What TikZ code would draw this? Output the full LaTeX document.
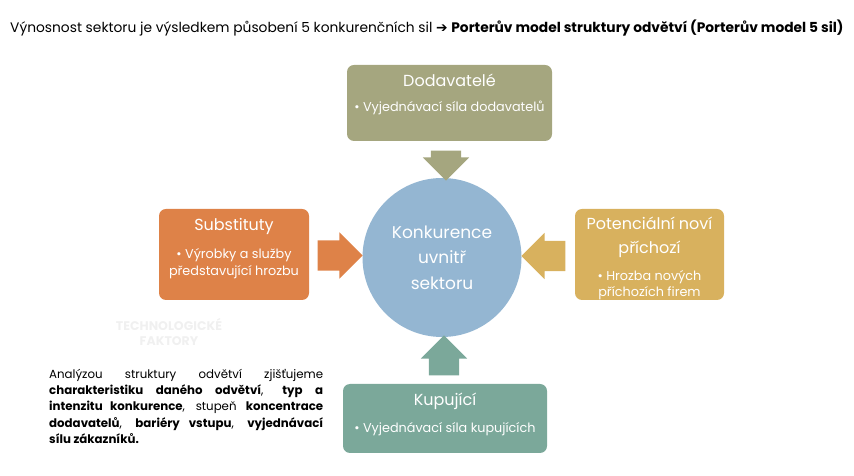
\documentclass[tikz,border=0pt]{standalone}
\usepackage{fontspec}
\setmainfont{Poppins}
\newfontfamily\symfont{DejaVu Sans}
\usetikzlibrary{shapes.arrows,positioning}

\definecolor{dodcol}{HTML}{A5A67F}
\definecolor{subcol}{HTML}{DE8248}
\definecolor{potcol}{HTML}{D8B15E}
\definecolor{kupcol}{HTML}{7BA89A}
\definecolor{konkcol}{HTML}{94B6D2}
\definecolor{fadecol}{HTML}{F0F0F0}

\newcommand{\boxtitle}{\fontsize{16}{17}\selectfont}

\tikzset{
  forcebox/.style={rounded corners=7pt, inner sep=0pt},
  boxtext/.style={text=white, align=center, inner sep=0pt,
    font=\fontsize{12.8}{17}\selectfont},
  blockarrow/.style={single arrow, single arrow head extend=8pt,
    inner xsep=0pt, inner ysep=15pt}
}

\begin{document}
\begin{tikzpicture}[x=1pt,y=1pt]
\useasboundingbox (0,0) rectangle (854,476);

% title line
\node[anchor=west, inner sep=0pt] (title) at (10,448)
{\fontsize{13.8}{16}\selectfont Výnosnost sektoru je výsledkem působení 5 konkurenčních sil
{\symfont\bfseries ➔} \textbf{Porterův model struktury odvětví (Porterův model 5 sil)}};

% centre
\node[circle, fill=konkcol, minimum size=159pt, inner sep=0pt, boxtext,
  font=\fontsize{17}{25.5}\selectfont] (konk) at (442,218.5)
{Konkurence\\uvnitř\\sektoru};

% the four forces
\node[forcebox, fill=dodcol, minimum width=205pt, minimum height=76pt] (dod) at (449.5,373) {};
\node[boxtext, below=9pt of dod.north] (dodtxt)
{{\boxtitle Dodavatelé}\\[8pt]• Vyjednávací síla dodavatelů};

\node[forcebox, fill=subcol, minimum width=150pt, minimum height=91pt] (sub) at (234,221.5) {};
\node[boxtext, below=9pt of sub.north] (subtxt)
{{\boxtitle Substituty}\\[11pt]• Výrobky a služby\\představující hrozbu};

\node[forcebox, fill=potcol, minimum width=149pt, minimum height=91pt] (pot) at (649.5,221.5) {};
\node[boxtext, below=8pt of pot.north] (pottxt)
{{\boxtitle Potenciální noví}\\[7pt]{\boxtitle příchozí}\\[10pt]• Hrozba nových\\[-1pt]příchozích firem};

\node[forcebox, fill=kupcol, minimum width=204pt, minimum height=69pt] (kup) at (445,57.5) {};
\node[boxtext, below=9pt of kup.north] (kuptxt)
{{\boxtitle Kupující}\\[10pt]• Vyjednávací síla kupujících};

% block arrows towards the centre
\node[blockarrow, fill=dodcol, minimum height=30pt, rotate=-90] (adod) at (446,318) {};
\node[blockarrow, fill=subcol, minimum height=45pt] (asub) at (332.5,220.5) {};
\node[blockarrow, fill=potcol, minimum height=44pt, rotate=180] (apot) at (551,220) {};
\node[blockarrow, fill=kupcol, minimum height=40pt, rotate=90] (akup) at (444,113) {};

% faded label
\node[text=fadecol, align=center, font=\bfseries\fontsize{12.5}{15}\selectfont] (tech) at (169,144)
{TECHNOLOGICKÉ\\FAKTORY};

% note
\node[anchor=north west, inner sep=0pt, align=left, font=\fontsize{11.8}{16.2}\selectfont] (note) at (49,107)
{\makebox[274pt][s]{Analýzou struktury odvětví zjišťujeme}\\
\makebox[274pt][s]{\textbf{charakteristiku daného odvětví}, \textbf{typ a}}\\
\makebox[274pt][s]{\textbf{intenzitu konkurence}, stupeň \textbf{koncentrace}}\\
\makebox[274pt][s]{\textbf{dodavatelů}, \textbf{bariéry vstupu}, \textbf{vyjednávací}}\\
\textbf{sílu zákazníků.}};
\end{tikzpicture}
\end{document}
